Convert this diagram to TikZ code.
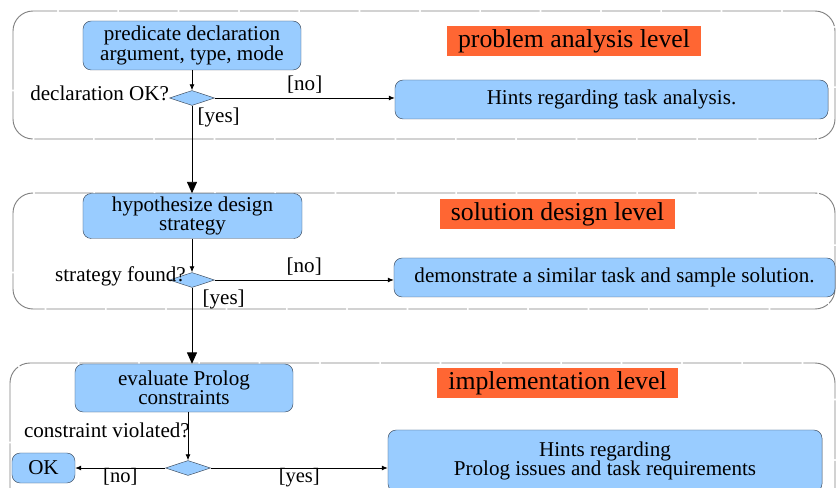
\documentclass[tikz,border=0pt]{standalone}
\usepackage{fontspec}
\setmainfont{Liberation Serif}
\usetikzlibrary{arrows.meta,positioning,shapes.geometric,calc}
\definecolor{boxblue}{HTML}{99CCFF}
\definecolor{boxline}{HTML}{3C4A5C}
\definecolor{levelbg}{HTML}{FF6633}
\definecolor{frameline}{HTML}{808080}

\begin{document}
\begin{tikzpicture}[
  x=0.03cm, y=-0.03cm,
  font=\fontsize{18}{16.5}\selectfont,
  box/.style={draw=boxline, fill=boxblue, rounded corners=7pt, align=center, inner sep=2pt},
  dec/.style={diamond, draw=boxline, fill=boxblue, minimum width=1.35cm, minimum height=0.45cm, inner sep=0pt},
  level/.style={fill=levelbg, font=\fontsize{22}{22}\selectfont, minimum height=0.9cm, inner sep=2pt},
  frame/.style={draw=frameline, line width=0.8pt, rounded corners=0.6cm, dash pattern=on 50pt off 1.5pt},
  arr/.style={-{Latex[length=1.8mm,width=1.5mm]}, line width=0.7pt},
  down/.style={-{Triangle[length=3.4mm,width=3mm]}, line width=0.7pt},
  lowlbl/.style={below, inner sep=0pt, font=\fontsize{17.5}{17.5}\selectfont}
]
\useasboundingbox (0,0) rectangle (836,488);
\clip (0,0) rectangle (836,488);

\draw[frame] (13,11) rectangle (835,139);
\draw[frame] (13,193) rectangle (835,309);
\draw[frame] (10,363) rectangle (835,530);

\node[box, minimum width=6.54cm, minimum height=1.47cm] (pred) at (192,45.5) {predicate declaration\\argument, type, mode};
\node[dec] (dec1) at (192,98) {};
\node[anchor=base east, inner sep=0pt] (q1) at ($(dec1.west)+(0,3)$) {declaration OK?};
\node[box, minimum width=12.99cm, minimum height=1.17cm] (hint1) at (611.5,99.5) {Hints regarding task analysis.};
\node[level, minimum width=7.62cm] (lev1) at (574,41) {problem analysis level};
\node[anchor=north west, inner sep=2pt] (yes1) at ($(dec1.south)+(3,0)$) {[yes]};

\node[box, minimum width=6.57cm, minimum height=1.35cm] (hyp) at (192.5,216) {hypothesize design\\strategy};
\node[dec] (dec2) at (192,280) {};
\node[anchor=base east, inner sep=0pt] (q2) at ($(dec2.center)+(-6,2)$) {strategy found?};
\node[box, minimum width=13.23cm, minimum height=1.17cm] (demo) at (614.5,277.5) {demonstrate a similar task and sample solution.};
\node[level, minimum width=7.05cm] (lev2) at (557.5,214) {solution design level};
\node[anchor=north west, inner sep=2pt] (yes2) at ($(dec2.south)+(8,0)$) {[yes]};

\node[box, minimum width=6.54cm, minimum height=1.44cm] (eval) at (184,388) {evaluate Prolog\\constraints};
\node[dec] (dec3) at (188,468) {};
\node[anchor=base east, inner sep=0pt] (q3) at ($(dec3.center)+(2,-30)$) {constraint violated?};
\node[box, minimum width=1.89cm, minimum height=0.9cm] (ok) at (43.5,468) {OK};
\node[box, minimum width=13.02cm, minimum height=1.86cm] (hint3) at (605,461) {Hints regarding\\Prolog issues and task requirements};
\node[level, minimum width=7.23cm] (lev3) at (557.5,383) {implementation level};

\draw[arr] (pred) -- (dec1);
\draw[arr] (dec1.east) -- node[above] {[no]} (dec1.east -| hint1.west);
\draw[down] (dec1.south) -- (dec1 |- hyp.north);
\draw[arr] (dec2 |- hyp.south) -- (dec2.north);
\draw[arr] (dec2.east) -- node[above] {[no]} (dec2.east -| demo.west);
\draw[down] (dec2.south) -- (dec2 |- eval.north);
\draw[arr] (dec3 |- eval.south) -- (dec3.north);
\draw[arr] (dec3.west) -- node[lowlbl] {[no]} (ok.east);
\draw[arr] (dec3.east) -- node[lowlbl] {[yes]} (dec3.east -| hint3.west);
\end{tikzpicture}
\end{document}
